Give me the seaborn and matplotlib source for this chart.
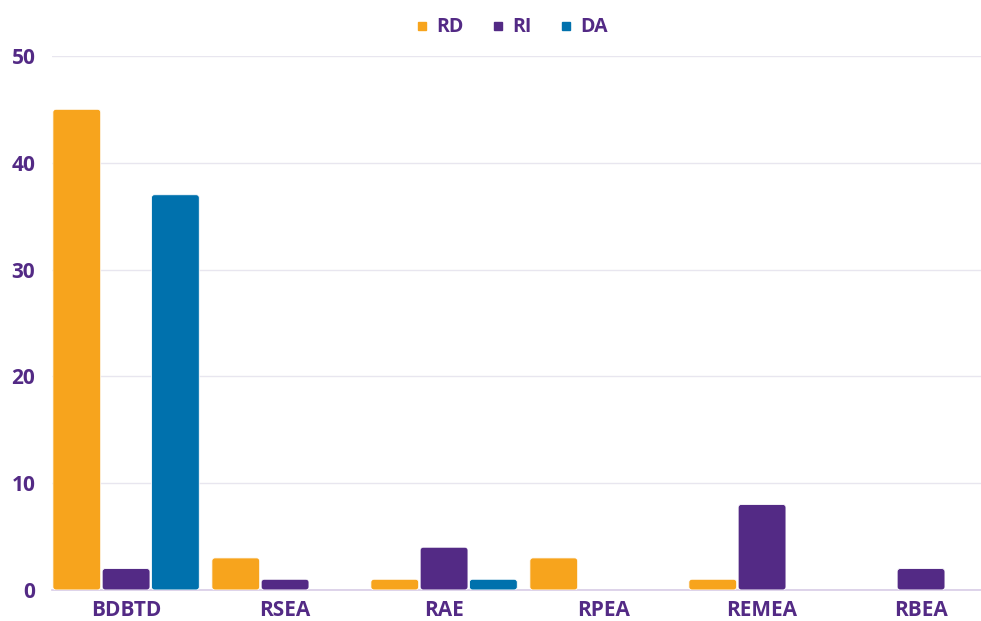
import pandas as pd
import matplotlib.pyplot as plt
import seaborn as sns
from matplotlib.patches import FancyBboxPatch
from matplotlib.lines import Line2D

categories = ["BDBTD", "RSEA", "RAE", "RPEA", "REMEA", "RBEA"]
series = ["RD", "RI", "DA"]
rd_values = [45, 3, 1, 3, 1, 0]
ri_values = [2, 1, 4, 0, 8, 2]
da_values = [37, 0, 1, 0, 0, 0]
y_ticks = [0, 10, 20, 30, 40, 50]

colors = {"RD": "#F7A41D", "RI": "#532A85", "DA": "#0071AD"}
text_color = "#532A85"

rows = []
for name, vals in zip(series, [rd_values, ri_values, da_values]):
    for cat, v in zip(categories, vals):
        rows.append({"Category": cat, "Series": name, "Value": v})
df = pd.DataFrame(rows)

sns.set_style("white")
plt.rcParams["font.family"] = ["Open Sans", "DejaVu Sans"]
plt.rcParams["font.weight"] = "bold"

fig = plt.figure(figsize=(9.81, 6.21), dpi=100)
ax = fig.add_axes([0.053, 0.05, 0.947, 0.86])

sns.barplot(data=df, x="Category", y="Value", hue="Series", order=categories,
            hue_order=series, palette=colors, width=0.93, gap=0.03,
            saturation=1, legend=False, ax=ax, zorder=3)

ax.set_xlim(-0.466, 5.377)
ax.set_ylim(0, 50)

# round the bar corners
x_per_px = (5.377 + 0.466) / (0.947 * 981)
y_per_px = 50 / (0.86 * 621)
for p in list(ax.patches):
    x, y = p.get_x(), p.get_y()
    w, h = p.get_width(), p.get_height()
    fc = p.get_facecolor()
    p.remove()
    if h <= 0:
        continue
    r = 3 * x_per_px
    box = FancyBboxPatch((x, y), w, h, boxstyle=f"round,pad=0,rounding_size={r}",
                         mutation_aspect=y_per_px / x_per_px, facecolor=fc,
                         edgecolor="white", linewidth=0.6, zorder=3)
    ax.add_patch(box)

ax.set_yticks(y_ticks)
ax.grid(axis="y", color="#E8E6EF", linewidth=1, zorder=0)
ax.set_xlabel("")
ax.set_ylabel("")
for s in ["top", "right", "left"]:
    ax.spines[s].set_visible(False)
ax.spines["bottom"].set_color("#D8CCE6")
ax.spines["bottom"].set_linewidth(1.2)
ax.tick_params(axis="both", length=0, labelsize=15, labelcolor=text_color)
ax.tick_params(axis="x", pad=7)
ax.tick_params(axis="y", pad=12)
for lbl in ax.get_xticklabels() + ax.get_yticklabels():
    lbl.set_fontweight("bold")

handles = [Line2D([], [], marker="s", linestyle="", markersize=6,
                  markerfacecolor=colors[s], markeredgecolor=colors[s]) for s in series]
leg = fig.legend(handles, series, loc="upper center", bbox_to_anchor=(0.522, 1.0),
                 ncol=3, frameon=False, handlelength=0.6, handletextpad=0.4,
                 columnspacing=1.5, prop={"size": 14, "weight": "bold"})
for t in leg.get_texts():
    t.set_color(text_color)

fig.savefig("out.png", dpi=100)
